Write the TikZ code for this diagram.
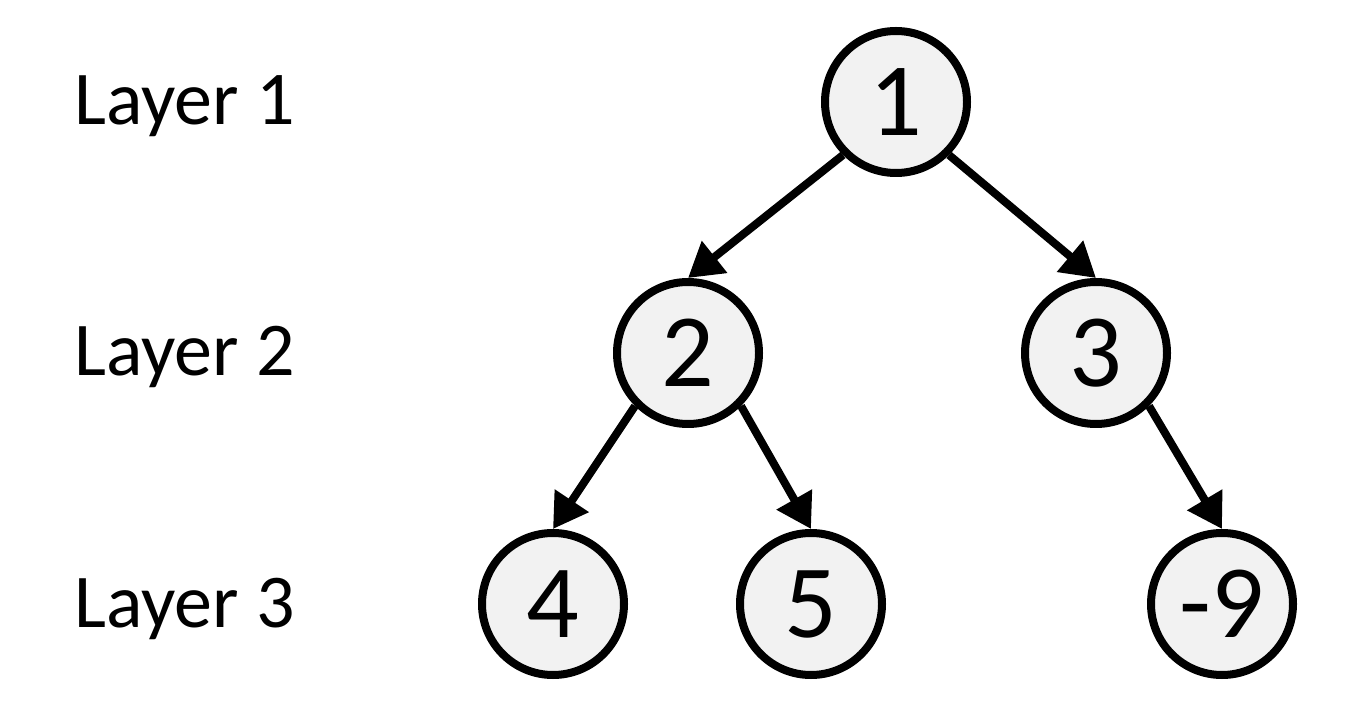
\documentclass[tikz,border=0pt]{standalone}
\usepackage{fontspec}
\setmainfont{Carlito}
\usepackage{tikz}
\usetikzlibrary{arrows.meta}
\definecolor{nodefill}{HTML}{F2F2F2}

\begin{document}
\begin{tikzpicture}[x=0.5pt,y=-0.5pt]
\tikzstyle{every node}+=[inner sep=0pt]
\tikzstyle{vert}=[circle, draw=black, line width=4pt, fill=nodefill, minimum size=71pt, font=\fontsize{52}{52}\selectfont]
\tikzstyle{layer}=[anchor=base west, font=\fontsize{38}{38}\selectfont]
\tikzstyle{edge}=[line width=4pt, -{Triangle[length=17pt,width=19.5pt]}]
\useasboundingbox (0,0) rectangle (1366,721);
\node [layer] (l1) at (74,125) {Layer 1};
\node [layer] (l2) at (74,376) {Layer 2};
\node [layer] (l3) at (74,627) {Layer 3};
\node [vert] (n1) at (896,102) {1};
\node [vert] (n2) at (688,353) {2};
\node [vert] (n3) at (1096,353) {3};
\node [vert] (n4) at (553,604) {4};
\node [vert] (n5) at (811,604) {5};
\node [vert] (n9) at (1222,604) {-9};
\draw [edge] (n1.south west) -- (n2.north);
\draw [edge] (n1.south east) -- (n3.north);
\draw [edge] (n2.south west) -- (n4.north);
\draw [edge] (n2.south east) -- (n5.north);
\draw [edge] (n3.south east) -- (n9.north);
\end{tikzpicture}
\end{document}
